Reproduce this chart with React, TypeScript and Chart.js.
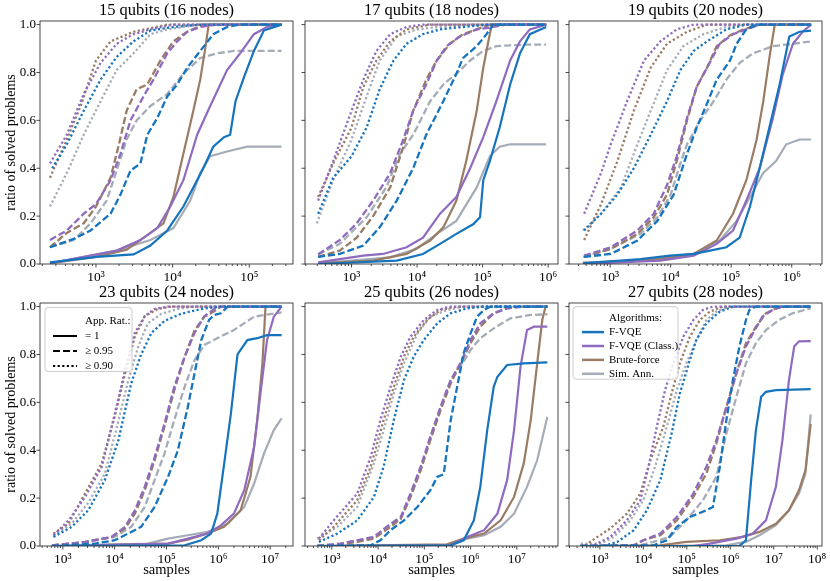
import React, { useEffect, useRef } from 'react';
import { Chart, registerables } from 'chart.js';

Chart.register(...registerables);

// every point is [log10(samples), ratio of solved problems]
type Pt = [number, number];

// ---- 15 qubits (16 nodes)
const p15_fvqe_1: Pt[] = [[2.40,0.007],[3.01,0.03],[3.49,0.04],[3.71,0.077],[3.93,0.14],[4.14,0.24],[4.27,0.32],[4.40,0.40],[4.53,0.49],[4.67,0.53],[4.75,0.54],[4.82,0.68],[4.93,0.78],[5.06,0.89],[5.19,0.975],[5.42,1.0]];
const p15_fvqe_95: Pt[] = [[2.40,0.07],[2.71,0.105],[2.93,0.14],[3.19,0.21],[3.32,0.29],[3.45,0.39],[3.58,0.42],[3.67,0.54],[3.80,0.61],[3.93,0.70],[4.06,0.75],[4.19,0.82],[4.36,0.89],[4.53,0.96],[4.71,0.99],[4.88,1.0],[5.42,1.0]];
const p15_fvqe_90: Pt[] = [[2.43,0.40],[2.62,0.50],[2.84,0.64],[3.06,0.77],[3.27,0.865],[3.49,0.93],[3.71,0.975],[4.01,0.99],[4.36,1.0],[5.42,1.0]];
const p15_class_1: Pt[] = [[2.40,0.003],[3.27,0.056],[3.58,0.10],[3.80,0.15],[3.97,0.24],[4.14,0.35],[4.32,0.54],[4.49,0.66],[4.71,0.81],[4.88,0.88],[5.06,0.96],[5.23,0.99],[5.42,1.0]];
const p15_class_95: Pt[] = [[2.40,0.10],[2.62,0.14],[2.84,0.21],[3.0,0.25],[3.19,0.35],[3.32,0.46],[3.45,0.60],[3.62,0.70],[3.75,0.77],[3.93,0.88],[4.06,0.93],[4.19,0.97],[4.36,0.99],[4.58,1.0],[5.42,1.0]];
const p15_class_90: Pt[] = [[2.40,0.42],[2.62,0.54],[2.84,0.71],[3.06,0.84],[3.27,0.92],[3.49,0.96],[3.71,0.98],[4.01,1.0],[5.42,1.0]];
const p15_brute_1: Pt[] = [[2.40,0.003],[3.0,0.03],[3.40,0.06],[3.71,0.13],[3.88,0.17],[4.01,0.28],[4.14,0.46],[4.27,0.64],[4.36,0.77],[4.43,0.91],[4.47,1.0],[5.42,1.0]];
const p15_brute_95: Pt[] = [[2.40,0.07],[2.62,0.13],[2.84,0.17],[3.0,0.24],[3.19,0.36],[3.30,0.50],[3.40,0.64],[3.53,0.73],[3.67,0.75],[3.84,0.85],[4.01,0.93],[4.19,0.97],[4.40,1.0],[5.42,1.0]];
const p15_brute_90: Pt[] = [[2.40,0.36],[2.62,0.52],[2.80,0.66],[3.0,0.85],[3.19,0.93],[3.49,0.97],[3.93,1.0],[5.42,1.0]];
const p15_sa_1: Pt[] = [[2.40,0.003],[3.27,0.056],[3.71,0.10],[4.01,0.15],[4.23,0.265],[4.36,0.38],[4.49,0.45],[4.71,0.47],[4.97,0.49],[5.42,0.49]];
const p15_sa_95: Pt[] = [[2.40,0.07],[2.71,0.10],[2.93,0.17],[3.14,0.265],[3.27,0.39],[3.40,0.52],[3.53,0.60],[3.71,0.66],[3.93,0.71],[4.14,0.795],[4.36,0.86],[4.58,0.88],[4.80,0.89],[5.42,0.89]];
const p15_sa_90: Pt[] = [[2.40,0.24],[2.62,0.38],[2.84,0.54],[3.06,0.68],[3.27,0.81],[3.49,0.88],[3.71,0.96],[3.93,0.98],[4.36,1.0],[5.42,1.0]];

// ---- 17 qubits (18 nodes)
const p17_fvqe_1: Pt[] = [[2.49,0.0],[3.69,0.014],[4.09,0.042],[4.35,0.084],[4.60,0.126],[4.86,0.167],[4.96,0.195],[5.01,0.35],[5.11,0.43],[5.26,0.57],[5.42,0.75],[5.57,0.88],[5.72,0.96],[5.97,0.99]];
const p17_fvqe_95: Pt[] = [[2.49,0.03],[2.82,0.042],[3.18,0.077],[3.43,0.153],[3.69,0.265],[3.94,0.40],[4.14,0.54],[4.40,0.68],[4.60,0.795],[4.70,0.86],[4.91,0.91],[5.06,0.96],[5.16,1.0],[5.97,1.0]];
const p17_fvqe_90: Pt[] = [[2.49,0.21],[2.72,0.36],[3.0,0.45],[3.23,0.57],[3.43,0.73],[3.64,0.85],[3.84,0.92],[4.09,0.96],[4.35,0.98],[4.70,0.99],[5.11,1.0],[5.97,1.0]];
const p17_class_1: Pt[] = [[2.49,0.007],[3.18,0.035],[3.48,0.042],[3.84,0.07],[4.09,0.11],[4.35,0.21],[4.60,0.28],[4.81,0.40],[5.01,0.53],[5.21,0.68],[5.42,0.85],[5.57,0.93],[5.72,0.98],[5.97,1.0]];
const p17_class_95: Pt[] = [[2.49,0.04],[2.82,0.10],[3.08,0.17],[3.33,0.265],[3.59,0.38],[3.79,0.52],[3.94,0.64],[4.14,0.75],[4.30,0.85],[4.45,0.91],[4.65,0.95],[4.91,0.98],[5.16,0.99],[5.36,1.0],[5.97,1.0]];
const p17_class_90: Pt[] = [[2.49,0.265],[2.72,0.43],[3.0,0.64],[3.18,0.77],[3.38,0.89],[3.59,0.96],[3.84,0.99],[4.09,1.0],[5.97,1.0]];
const p17_brute_1: Pt[] = [[2.49,0.003],[3.33,0.014],[3.84,0.042],[4.20,0.098],[4.40,0.153],[4.60,0.265],[4.75,0.43],[4.91,0.64],[5.01,0.82],[5.08,0.92],[5.14,1.0],[5.97,1.0]];
const p17_brute_95: Pt[] = [[2.49,0.03],[2.82,0.056],[3.08,0.11],[3.33,0.20],[3.59,0.32],[3.79,0.49],[3.94,0.64],[4.14,0.77],[4.30,0.85],[4.50,0.92],[4.70,0.96],[4.91,0.98],[5.11,1.0],[5.97,1.0]];
const p17_brute_90: Pt[] = [[2.49,0.28],[2.72,0.42],[3.0,0.57],[3.18,0.74],[3.38,0.85],[3.59,0.93],[3.84,0.98],[4.20,1.0],[5.97,1.0]];
const p17_sa_1: Pt[] = [[2.49,0.003],[3.59,0.028],[3.99,0.063],[4.30,0.126],[4.60,0.18],[4.91,0.32],[5.11,0.45],[5.26,0.49],[5.42,0.50],[5.97,0.50]];
const p17_sa_95: Pt[] = [[2.49,0.04],[2.82,0.084],[3.23,0.195],[3.53,0.32],[3.74,0.46],[3.94,0.54],[4.20,0.68],[4.40,0.75],[4.60,0.795],[4.81,0.85],[5.01,0.89],[5.21,0.91],[5.62,0.916],[5.97,0.916]];
const p17_sa_90: Pt[] = [[2.47,0.17],[2.72,0.35],[3.0,0.52],[3.23,0.70],[3.43,0.85],[3.69,0.95],[3.99,0.98],[4.35,0.99],[4.86,1.0],[5.97,1.0]];

// ---- 19 qubits (20 nodes)
const p19_fvqe_1: Pt[] = [[2.55,0.003],[3.50,0.02],[3.99,0.035],[4.38,0.042],[4.65,0.056],[4.92,0.07],[5.14,0.11],[5.31,0.24],[5.47,0.40],[5.63,0.57],[5.80,0.75],[5.96,0.95],[6.13,0.97],[6.32,0.975]];
const p19_fvqe_95: Pt[] = [[2.57,0.03],[3.01,0.042],[3.45,0.098],[3.78,0.18],[4.05,0.29],[4.27,0.46],[4.43,0.57],[4.60,0.67],[4.76,0.77],[4.98,0.85],[5.09,0.92],[5.25,0.98],[5.42,1.0],[6.32,1.0]];
const p19_fvqe_90: Pt[] = [[2.57,0.14],[2.85,0.21],[3.12,0.29],[3.39,0.40],[3.67,0.54],[3.94,0.68],[4.16,0.81],[4.38,0.89],[4.60,0.93],[4.92,0.98],[5.25,1.0],[6.32,1.0]];
const p19_class_1: Pt[] = [[2.55,0.0],[3.83,0.014],[4.38,0.035],[4.76,0.084],[5.03,0.14],[5.25,0.265],[5.47,0.40],[5.69,0.61],[5.85,0.79],[6.02,0.92],[6.18,0.97],[6.32,1.0]];
const p19_class_95: Pt[] = [[2.57,0.035],[3.01,0.07],[3.45,0.14],[3.72,0.21],[3.94,0.33],[4.10,0.45],[4.27,0.61],[4.43,0.74],[4.60,0.82],[4.81,0.92],[5.03,0.96],[5.25,0.98],[5.47,1.0],[6.32,1.0]];
const p19_class_90: Pt[] = [[2.57,0.21],[2.85,0.38],[3.01,0.50],[3.28,0.68],[3.56,0.85],[3.83,0.93],[4.10,0.98],[4.38,1.0],[6.32,1.0]];
const p19_brute_1: Pt[] = [[2.55,0.003],[3.83,0.02],[4.38,0.042],[4.76,0.098],[5.03,0.21],[5.25,0.35],[5.42,0.52],[5.53,0.68],[5.63,0.86],[5.72,1.0],[6.32,1.0]];
const p19_brute_95: Pt[] = [[2.57,0.03],[3.01,0.063],[3.45,0.126],[3.72,0.195],[3.94,0.29],[4.10,0.43],[4.27,0.60],[4.43,0.74],[4.60,0.82],[4.76,0.91],[4.98,0.955],[5.20,0.98],[5.47,1.0],[6.32,1.0]];
const p19_brute_90: Pt[] = [[2.57,0.10],[2.85,0.25],[3.12,0.43],[3.39,0.64],[3.67,0.82],[3.94,0.92],[4.27,0.97],[4.60,1.0],[6.32,1.0]];
const p19_sa_1: Pt[] = [[2.55,0.007],[3.56,0.014],[4.38,0.042],[4.81,0.098],[5.09,0.18],[5.31,0.28],[5.53,0.38],[5.74,0.43],[5.91,0.50],[6.13,0.52],[6.32,0.52]];
const p19_sa_95: Pt[] = [[2.55,0.03],[3.01,0.063],[3.50,0.126],[3.78,0.195],[4.0,0.29],[4.16,0.42],[4.27,0.50],[4.49,0.60],[4.71,0.68],[4.92,0.77],[5.14,0.84],[5.36,0.88],[5.69,0.91],[6.02,0.92],[6.32,0.93]];
const p19_sa_90: Pt[] = [[2.55,0.14],[2.85,0.21],[3.18,0.32],[3.45,0.50],[3.67,0.64],[3.94,0.81],[4.21,0.91],[4.54,0.96],[4.92,0.99],[5.25,1.0],[6.32,1.0]];

// ---- 23 qubits (24 nodes)
const p23_fvqe_1: Pt[] = [[2.79,0.0],[5.35,0.003],[5.67,0.024],[5.86,0.052],[5.98,0.135],[6.11,0.34],[6.24,0.55],[6.37,0.80],[6.56,0.86],[6.75,0.868],[6.94,0.881],[7.22,0.881]];
const p23_fvqe_95: Pt[] = [[2.79,0.0],[3.62,0.01],[4.0,0.024],[4.26,0.052],[4.51,0.08],[4.77,0.163],[5.03,0.289],[5.22,0.40],[5.41,0.58],[5.54,0.72],[5.67,0.86],[5.82,0.944],[5.92,0.965],[6.05,0.972],[6.18,1.0],[7.22,1.0]];
const p23_fvqe_90: Pt[] = [[2.82,0.038],[3.17,0.08],[3.49,0.149],[3.81,0.275],[4.07,0.44],[4.32,0.68],[4.51,0.80],[4.71,0.89],[4.96,0.94],[5.28,0.97],[5.67,0.99],[6.05,1.0],[7.22,1.0]];
const p23_class_1: Pt[] = [[2.79,0.0],[5.03,0.01],[5.41,0.031],[5.79,0.052],[6.05,0.086],[6.30,0.135],[6.50,0.233],[6.69,0.414],[6.82,0.651],[6.94,0.861],[7.07,0.958],[7.22,1.0]];
const p23_class_95: Pt[] = [[2.79,0.003],[3.43,0.017],[3.94,0.038],[4.20,0.08],[4.39,0.149],[4.58,0.247],[4.77,0.37],[4.96,0.51],[5.15,0.665],[5.35,0.79],[5.54,0.89],[5.73,0.96],[5.92,0.99],[6.05,1.0],[7.22,1.0]];
const p23_class_90: Pt[] = [[2.82,0.045],[3.11,0.107],[3.43,0.205],[3.75,0.33],[4.0,0.55],[4.20,0.735],[4.39,0.89],[4.58,0.96],[4.77,0.99],[5.03,1.0],[7.22,1.0]];
const p23_brute_1: Pt[] = [[2.79,0.0],[5.03,0.01],[5.41,0.026],[5.79,0.052],[6.11,0.08],[6.43,0.149],[6.62,0.289],[6.75,0.526],[6.85,0.763],[6.91,1.0],[7.22,1.0]];
const p23_brute_95: Pt[] = [[2.79,0.003],[3.43,0.017],[3.94,0.038],[4.20,0.073],[4.39,0.135],[4.58,0.233],[4.77,0.358],[4.96,0.498],[5.15,0.651],[5.35,0.79],[5.54,0.90],[5.73,0.958],[5.92,0.98],[6.05,1.0],[7.22,1.0]];
const p23_brute_90: Pt[] = [[2.82,0.052],[3.11,0.093],[3.43,0.22],[3.75,0.345],[4.0,0.54],[4.20,0.72],[4.39,0.875],[4.58,0.96],[4.83,0.99],[5.09,1.0],[7.22,1.0]];
const p23_sa_1: Pt[] = [[2.79,0.0],[4.64,0.01],[5.03,0.031],[5.41,0.045],[5.79,0.059],[6.18,0.093],[6.50,0.163],[6.69,0.261],[6.88,0.386],[7.07,0.484],[7.22,0.533]];
const p23_sa_95: Pt[] = [[2.79,0.003],[3.49,0.017],[4.0,0.038],[4.32,0.08],[4.58,0.163],[4.77,0.275],[4.96,0.386],[5.15,0.526],[5.35,0.665],[5.54,0.777],[5.73,0.84],[5.98,0.868],[6.30,0.902],[6.69,0.958],[7.22,0.976]];
const p23_sa_90: Pt[] = [[2.82,0.045],[3.17,0.093],[3.49,0.18],[3.81,0.30],[4.07,0.52],[4.26,0.69],[4.45,0.83],[4.64,0.93],[4.90,0.97],[5.22,0.99],[5.54,1.0],[7.22,1.0]];

// ---- 25 qubits (26 nodes)
const p25_fvqe_1: Pt[] = [[2.68,0.0],[5.57,0.003],[5.85,0.024],[6.07,0.107],[6.21,0.247],[6.36,0.484],[6.50,0.665],[6.58,0.707],[6.79,0.756],[7.15,0.763],[7.66,0.767]];
const p25_fvqe_95: Pt[] = [[2.68,0.0],[3.84,0.003],[4.05,0.024],[4.27,0.066],[4.56,0.107],[4.85,0.163],[5.13,0.233],[5.28,0.289],[5.42,0.30],[5.57,0.526],[5.71,0.665],[5.85,0.805],[6.0,0.888],[6.14,0.958],[6.29,0.986],[6.43,1.0],[7.66,1.0]];
const p25_fvqe_90: Pt[] = [[2.72,0.017],[3.12,0.052],[3.55,0.107],[3.91,0.205],[4.12,0.331],[4.34,0.526],[4.56,0.693],[4.77,0.791],[4.99,0.861],[5.28,0.93],[5.57,0.972],[5.93,0.993],[6.29,1.0],[7.66,1.0]];
const p25_class_1: Pt[] = [[2.68,0.0],[5.57,0.003],[5.93,0.038],[6.29,0.066],[6.58,0.135],[6.79,0.275],[6.94,0.484],[7.08,0.749],[7.22,0.902],[7.37,0.916],[7.66,0.916]];
const p25_class_95: Pt[] = [[2.68,0.0],[3.19,0.01],[3.55,0.024],[3.91,0.038],[4.27,0.093],[4.49,0.121],[4.70,0.219],[4.92,0.331],[5.13,0.456],[5.35,0.58],[5.57,0.693],[5.78,0.763],[6.0,0.861],[6.21,0.93],[6.50,0.972],[6.79,0.993],[7.15,1.0],[7.66,1.0]];
const p25_class_90: Pt[] = [[2.72,0.031],[3.04,0.107],[3.55,0.219],[3.84,0.372],[4.05,0.526],[4.27,0.665],[4.49,0.791],[4.70,0.874],[4.99,0.944],[5.28,0.986],[5.57,1.0],[7.66,1.0]];
const p25_brute_1: Pt[] = [[2.68,0.0],[5.49,0.007],[5.85,0.031],[6.29,0.052],[6.65,0.107],[6.94,0.205],[7.15,0.345],[7.30,0.526],[7.44,0.763],[7.55,0.944],[7.62,1.0],[7.66,1.0]];
const p25_brute_95: Pt[] = [[2.68,0.0],[3.19,0.007],[3.55,0.017],[3.91,0.031],[4.27,0.08],[4.49,0.114],[4.70,0.205],[4.92,0.317],[5.13,0.442],[5.35,0.567],[5.57,0.679],[5.78,0.763],[6.0,0.847],[6.21,0.916],[6.50,0.972],[6.79,0.993],[7.08,1.0],[7.66,1.0]];
const p25_brute_90: Pt[] = [[2.72,0.024],[3.04,0.08],[3.55,0.191],[3.84,0.331],[4.12,0.526],[4.34,0.665],[4.56,0.791],[4.77,0.874],[5.06,0.944],[5.35,0.986],[5.71,1.0],[7.66,1.0]];
const p25_sa_1: Pt[] = [[2.68,0.0],[5.57,0.003],[5.93,0.031],[6.29,0.045],[6.65,0.08],[6.94,0.135],[7.22,0.247],[7.44,0.358],[7.66,0.54]];
const p25_sa_95: Pt[] = [[2.68,0.0],[3.19,0.01],[3.55,0.024],[3.91,0.038],[4.27,0.086],[4.49,0.114],[4.70,0.205],[4.92,0.317],[5.13,0.456],[5.35,0.58],[5.57,0.693],[5.78,0.749],[6.0,0.819],[6.21,0.868],[6.50,0.909],[6.86,0.951],[7.30,0.965],[7.66,0.968]];
const p25_sa_90: Pt[] = [[2.68,0.031],[3.12,0.08],[3.55,0.163],[3.91,0.345],[4.12,0.484],[4.34,0.637],[4.56,0.763],[4.85,0.888],[5.13,0.958],[5.49,0.986],[5.85,1.0],[7.66,1.0]];

// ---- 27 qubits (28 nodes)
const p27_fvqe_1: Pt[] = [[2.56,0.0],[6.21,0.0],[6.36,0.024],[6.48,0.275],[6.59,0.484],[6.71,0.623],[6.82,0.644],[7.05,0.651],[7.85,0.655]];
const p27_fvqe_95: Pt[] = [[2.56,0.0],[4.23,0.003],[4.54,0.024],[4.77,0.08],[5.07,0.121],[5.45,0.149],[5.60,0.163],[5.76,0.331],[5.91,0.526],[6.06,0.693],[6.21,0.833],[6.36,0.944],[6.44,0.986],[6.59,1.0],[7.85,1.0]];
const p27_fvqe_90: Pt[] = [[2.56,0.0],[3.09,0.0],[3.40,0.017],[3.78,0.066],[4.08,0.149],[4.39,0.275],[4.65,0.47],[4.84,0.637],[5.07,0.777],[5.22,0.861],[5.45,0.93],[5.76,0.979],[6.06,1.0],[7.85,1.0]];
const p27_class_1: Pt[] = [[2.56,0.0],[5.15,0.0],[5.53,0.01],[6.14,0.031],[6.52,0.052],[6.82,0.107],[7.05,0.247],[7.20,0.442],[7.35,0.693],[7.47,0.833],[7.58,0.855],[7.85,0.856]];
const p27_class_95: Pt[] = [[2.56,0.0],[3.78,0.003],[4.0,0.024],[4.39,0.052],[4.77,0.121],[5.15,0.219],[5.45,0.331],[5.68,0.442],[5.91,0.58],[6.14,0.721],[6.36,0.833],[6.52,0.888],[6.74,0.958],[6.97,0.986],[7.20,1.0],[7.85,1.0]];
const p27_class_90: Pt[] = [[2.56,0.0],[2.86,0.003],[3.24,0.038],[3.62,0.107],[3.93,0.191],[4.12,0.331],[4.31,0.498],[4.50,0.651],[4.69,0.763],[4.92,0.874],[5.15,0.944],[5.37,0.986],[5.60,1.0],[7.85,1.0]];
const p27_brute_1: Pt[] = [[2.56,0.0],[4.39,0.003],[4.99,0.017],[5.76,0.024],[6.29,0.038],[6.67,0.059],[7.05,0.093],[7.35,0.149],[7.58,0.233],[7.73,0.317],[7.85,0.51]];
const p27_brute_95: Pt[] = [[2.56,0.0],[3.78,0.003],[4.0,0.024],[4.39,0.045],[4.77,0.107],[5.15,0.205],[5.45,0.303],[5.68,0.428],[5.91,0.58],[6.14,0.721],[6.36,0.847],[6.59,0.916],[6.82,0.972],[7.05,0.993],[7.28,1.0],[7.85,1.0]];
const p27_brute_90: Pt[] = [[2.56,0.0],[2.64,0.0],[2.83,0.024],[3.24,0.073],[3.62,0.135],[3.93,0.219],[4.16,0.358],[4.46,0.498],[4.65,0.637],[4.84,0.763],[5.07,0.874],[5.30,0.944],[5.53,0.979],[5.83,1.0],[7.85,1.0]];
const p27_sa_1: Pt[] = [[2.56,0.0],[5.91,0.003],[6.36,0.017],[6.67,0.045],[7.05,0.087],[7.35,0.149],[7.58,0.219],[7.73,0.303],[7.85,0.55]];
const p27_sa_95: Pt[] = [[2.56,0.0],[3.93,0.003],[4.23,0.017],[4.61,0.038],[4.99,0.107],[5.37,0.191],[5.68,0.289],[5.91,0.47],[6.14,0.623],[6.36,0.763],[6.59,0.847],[6.82,0.902],[7.12,0.944],[7.43,0.972],[7.85,0.993]];
const p27_sa_90: Pt[] = [[2.56,0.01],[3.02,0.01],[3.32,0.038],[3.70,0.107],[4.0,0.191],[4.27,0.331],[4.54,0.498],[4.77,0.651],[4.99,0.763],[5.22,0.86],[5.45,0.944],[5.68,0.979],[5.98,1.0],[7.85,1.0]];

const panelTitles = [
  '15 qubits (16 nodes)', '17 qubits (18 nodes)', '19 qubits (20 nodes)',
  '23 qubits (24 nodes)', '25 qubits (26 nodes)', '27 qubits (28 nodes)',
];
// x limits, as log10(samples)
const xLimitsExp: [number, number][] = [[2.27, 5.57], [2.29, 6.15], [2.32, 6.50], [2.56, 7.44], [2.42, 7.89], [2.29, 8.11]];
const algorithms = ['F-VQE', 'F-VQE (Class.)', 'Brute-force', 'Sim. Ann.'];
const ratioLabels = ['= 1', '\u2265 0.95', '\u2265 0.90'];
const yTicks = [0, 0.2, 0.4, 0.6, 0.8, 1.0];
const majorTicks = [1e2, 1e3, 1e4, 1e5, 1e6, 1e7, 1e8];
const majorTickLabels = ['10\u00B2', '10\u00B3', '10\u2074', '10\u2075', '10\u2076', '10\u2077', '10\u2078'];

// [panel][algorithm][threshold]
const panelSeries: Pt[][][][] = [
  [[p15_fvqe_1, p15_fvqe_95, p15_fvqe_90], [p15_class_1, p15_class_95, p15_class_90], [p15_brute_1, p15_brute_95, p15_brute_90], [p15_sa_1, p15_sa_95, p15_sa_90]],
  [[p17_fvqe_1, p17_fvqe_95, p17_fvqe_90], [p17_class_1, p17_class_95, p17_class_90], [p17_brute_1, p17_brute_95, p17_brute_90], [p17_sa_1, p17_sa_95, p17_sa_90]],
  [[p19_fvqe_1, p19_fvqe_95, p19_fvqe_90], [p19_class_1, p19_class_95, p19_class_90], [p19_brute_1, p19_brute_95, p19_brute_90], [p19_sa_1, p19_sa_95, p19_sa_90]],
  [[p23_fvqe_1, p23_fvqe_95, p23_fvqe_90], [p23_class_1, p23_class_95, p23_class_90], [p23_brute_1, p23_brute_95, p23_brute_90], [p23_sa_1, p23_sa_95, p23_sa_90]],
  [[p25_fvqe_1, p25_fvqe_95, p25_fvqe_90], [p25_class_1, p25_class_95, p25_class_90], [p25_brute_1, p25_brute_95, p25_brute_90], [p25_sa_1, p25_sa_95, p25_sa_90]],
  [[p27_fvqe_1, p27_fvqe_95, p27_fvqe_90], [p27_class_1, p27_class_95, p27_class_90], [p27_brute_1, p27_brute_95, p27_brute_90], [p27_sa_1, p27_sa_95, p27_sa_90]],
];

const COLORS = ['#1574bd', '#8e6bbf', '#9a7b64', '#a5acb7'];
const DASHES = [[], [7, 3], [2.2, 2.4]];
const FONT = "'Liberation Serif', 'DejaVu Serif', serif";

// plot area layout (page pixels)
const PLOT_W = 253;
const PLOT_H = 243;
const PAD_L = 40;
const PAD_T = 21;
const PAD_B = 35;
const PAD_R = 8;
const panelPos = [[40, 21], [305, 21], [569, 21], [40, 303], [305, 303], [569, 303]];

interface LegendSpec {
  x: number; y: number; w: number; h: number;
  rowStart: number; rowStep: number;
  lineX0: number; lineX1: number; textX: number; lineWidth: number;
  title: string;
  items: { label: string; color: string; dash: number[] }[];
}

const ratioLegend: LegendSpec = {
  x: 5, y: 4.5, w: 87, h: 64, rowStart: 13.5, rowStep: 15,
  lineX0: 8, lineX1: 32, textX: 40, lineWidth: 2,
  title: 'App. Rat.:',
  items: ratioLabels.map((label, i) => ({ label, color: '#000', dash: DASHES[i] })),
};

const algoLegend: LegendSpec = {
  x: 4, y: 3.7, w: 105, h: 72.5, rowStart: 11.5, rowStep: 13.9,
  lineX0: 9, lineX1: 31, textX: 36, lineWidth: 2.5,
  title: 'Algorithms:',
  items: algorithms.map((label, i) => ({ label, color: COLORS[i], dash: [] })),
};

const panelLegends: (LegendSpec | null)[] = [null, null, null, ratioLegend, null, algoLegend];

// frame, tick marks and in-axes legend
const framePlugin = {
  id: 'frame',
  afterDraw(chart: any, _args: any, opts: any) {
    const { ctx, chartArea: a, scales } = chart;
    ctx.save();
    ctx.strokeStyle = '#333';
    ctx.lineWidth = 0.9;
    ctx.setLineDash([]);
    ctx.strokeRect(a.left, a.top, a.right - a.left, a.bottom - a.top);
    ctx.beginPath();
    scales.x.ticks.forEach((t: any) => {
      const px = scales.x.getPixelForValue(t.value);
      ctx.moveTo(px, a.bottom);
      ctx.lineTo(px, a.bottom + (t.major ? 3.5 : 2));
    });
    scales.y.ticks.forEach((t: any) => {
      const py = scales.y.getPixelForValue(t.value);
      ctx.moveTo(a.left - 3.5, py);
      ctx.lineTo(a.left, py);
    });
    ctx.stroke();

    const lg: LegendSpec | null = opts.legend;
    if (lg) {
      const x0 = a.left + lg.x;
      const y0 = a.top + lg.y;
      ctx.beginPath();
      ctx.roundRect(x0, y0, lg.w, lg.h, 3);
      ctx.fillStyle = 'rgba(255,255,255,0.85)';
      ctx.fill();
      ctx.strokeStyle = '#cccccc';
      ctx.lineWidth = 1;
      ctx.stroke();
      ctx.font = `11px ${FONT}`;
      ctx.fillStyle = '#000';
      ctx.textBaseline = 'middle';
      ctx.textAlign = 'left';
      ctx.fillText(lg.title, x0 + lg.textX, y0 + lg.rowStart);
      lg.items.forEach((it, i) => {
        const yy = y0 + lg.rowStart + (i + 1) * lg.rowStep;
        ctx.beginPath();
        ctx.setLineDash(it.dash);
        ctx.lineCap = 'butt';
        ctx.strokeStyle = it.color;
        ctx.lineWidth = lg.lineWidth;
        ctx.moveTo(x0 + lg.lineX0, yy);
        ctx.lineTo(x0 + lg.lineX1, yy);
        ctx.stroke();
        ctx.setLineDash([]);
        ctx.fillText(it.label, x0 + lg.textX, yy);
      });
    }
    ctx.restore();
  },
};

const buildLogTicks = (lo: number, hi: number) => {
  const out: { value: number; major: boolean }[] = [];
  for (let e = Math.floor(lo); e <= Math.ceil(hi); e++) {
    for (let m = 1; m <= 9; m++) {
      const v = m * Math.pow(10, e);
      const lv = Math.log10(v);
      if (lv >= lo && lv <= hi) out.push({ value: v, major: m === 1 });
    }
  }
  return out;
};

const Panel: React.FC<{ index: number }> = ({ index }) => {
  const canvasRef = useRef<HTMLCanvasElement>(null);
  const chartRef = useRef<Chart | null>(null);

  useEffect(() => {
    if (!canvasRef.current) return;
    if (chartRef.current) chartRef.current.destroy();
    const ctx = canvasRef.current.getContext('2d');
    if (!ctx) return;

    const [lo, hi] = xLimitsExp[index];
    const leftCol = index % 3 === 0;
    const bottomRow = index >= 3;

    const datasets: any[] = [];
    panelSeries[index].forEach((alg, a) => {
      alg.forEach((pts, t) => {
        datasets.push({
          data: pts.map(([lx, y]) => ({ x: Math.pow(10, lx), y })),
          borderColor: COLORS[a],
          borderWidth: t === 0 ? 2.2 : 2.3,
          borderDash: DASHES[t],
          borderCapStyle: 'butt',
          pointRadius: 0,
          fill: false,
          tension: 0,
        });
      });
    });

    chartRef.current = new Chart(ctx, {
      type: 'line',
      data: { datasets },
      plugins: [framePlugin],
      options: {
        responsive: true,
        maintainAspectRatio: false,
        animation: false,
        layout: { padding: { left: 0, right: PAD_R, top: 0, bottom: 0 } },
        plugins: {
          legend: { display: false },
          tooltip: { enabled: false },
          title: {
            display: true,
            text: panelTitles[index],
            fullSize: false,
            color: '#000',
            font: { family: FONT, size: 16.5, weight: 'normal' },
            padding: { top: 0.7, bottom: 0.5 },
          },
          frame: { legend: panelLegends[index] },
        } as any,
        scales: {
          x: {
            type: 'logarithmic',
            min: Math.pow(10, lo),
            max: Math.pow(10, hi),
            afterBuildTicks: (s: any) => { s.ticks = buildLogTicks(lo, hi); },
            afterFit: (s: any) => { s.height = PAD_B; s.paddingLeft = 0; s.paddingRight = 0; },
            ticks: {
              autoSkip: false,
              maxRotation: 0,
              minRotation: 0,
              padding: 1.5,
              color: '#000',
              font: { family: FONT, size: 13.5 },
              callback: (value: any) => {
                const i = majorTicks.findIndex((m) => Math.abs(m - Number(value)) / m < 1e-9);
                return i >= 0 ? majorTickLabels[i] : '';
              },
            },
            grid: { display: true, drawOnChartArea: false, drawTicks: true, tickLength: 4, tickColor: 'rgba(0,0,0,0)' },
            border: { display: false },
            title: {
              display: bottomRow,
              text: 'samples',
              color: '#000',
              font: { family: FONT, size: 14.5 },
              padding: { top: 0, bottom: 2.3 },
            },
          },
          y: {
            type: 'linear',
            min: 0,
            max: 1.015,
            afterBuildTicks: (s: any) => { s.ticks = yTicks.map((v) => ({ value: v })); },
            afterFit: (s: any) => { s.width = PAD_L; s.paddingTop = 0; s.paddingBottom = 0; },
            ticks: {
              padding: 1,
              color: '#000',
              font: { family: FONT, size: 13 },
              callback: (value: any) => (leftCol ? Number(value).toFixed(1) : ''),
            },
            grid: { display: true, drawOnChartArea: false, drawTicks: true, tickLength: 3, tickColor: 'rgba(0,0,0,0)' },
            border: { display: false },
            title: {
              display: leftCol,
              text: 'ratio of solved problems',
              color: '#000',
              font: { family: FONT, size: 14 },
              padding: { top: 2.6, bottom: 0 },
            },
          },
        },
      } as any,
    });

    return () => {
      if (chartRef.current) {
        chartRef.current.destroy();
        chartRef.current = null;
      }
    };
  }, [index]);

  const [px, py] = panelPos[index];
  return (
    <div
      style={{
        position: 'absolute',
        left: px - PAD_L,
        top: py - PAD_T,
        width: PAD_L + PLOT_W + PAD_R,
        height: PAD_T + PLOT_H + PAD_B,
      }}
    >
      <canvas ref={canvasRef}></canvas>
    </div>
  );
};

const App: React.FC = () => (
  <div style={{ position: 'fixed', left: 0, top: 0, width: 830, height: 581, background: '#fff' }}>
    {panelTitles.map((_, i) => (
      <Panel key={i} index={i} />
    ))}
  </div>
);

export default App;
